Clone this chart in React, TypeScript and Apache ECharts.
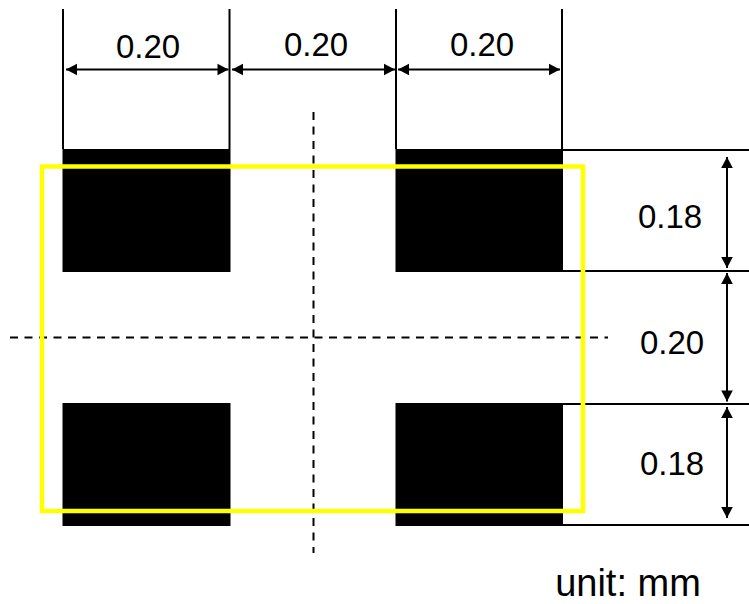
import React, { useEffect, useRef } from "react";
import * as echarts from "echarts";

const W = 749;
const H = 604;
// drawing coordinates on the diagram's own axes: [x0, y0, x1, y1]
const pads = [
  [62.5, 149, 230.5, 272],
  [395.5, 149, 563, 272],
  [62.5, 403, 230.5, 526],
  [395.5, 403, 563, 526],
];
const outline = [[42, 166.5, 583, 511]];
const extensionLines = [
  [63, 9, 63, 149],
  [229.5, 9, 229.5, 149],
  [396, 9, 396, 149],
  [562, 9, 562, 149],
  [563, 150, 749, 150],
  [563, 271, 749, 271],
  [563, 404, 749, 404],
  [563, 525, 749, 525],
];
const centreLines = [
  [313.5, 112, 313.5, 553],
  [10, 337.5, 608, 337.5],
];
const arrows = [
  [66, 69.5, 228.5, 69.5],
  [232, 69.5, 395, 69.5],
  [398, 69.5, 560, 69.5],
  [727, 157, 727, 268],
  [727, 273, 727, 401.5],
  [727, 407, 727, 518],
];
const labelTexts = ["0.20", "0.20", "0.20", "0.18", "0.20", "0.18"];
const labelXs = [148, 316, 482, 670, 672, 672];
const labelYs = [46, 44, 44, 216, 342, 463];
const unitTexts = ["unit: mm"];
const unitXs = [628];
const unitYs = [583];

const FONT = '"Liberation Sans", Arial, sans-serif';

function rectSeries(data: number[][], style: any, z: number) {
  return {
    type: "custom",
    coordinateSystem: "cartesian2d",
    silent: true,
    z,
    data,
    encode: { x: [0, 2], y: [1, 3] },
    renderItem: (_: any, api: any) => {
      const a = api.coord([api.value(0), api.value(1)]);
      const b = api.coord([api.value(2), api.value(3)]);
      return {
        type: "rect",
        shape: { x: a[0], y: a[1], width: b[0] - a[0], height: b[1] - a[1] },
        style,
      };
    },
  };
}

function lineSeries(data: number[][], style: any, z: number) {
  return {
    type: "custom",
    coordinateSystem: "cartesian2d",
    silent: true,
    z,
    data,
    encode: { x: [0, 2], y: [1, 3] },
    renderItem: (_: any, api: any) => {
      const a = api.coord([api.value(0), api.value(1)]);
      const b = api.coord([api.value(2), api.value(3)]);
      return {
        type: "line",
        shape: { x1: a[0], y1: a[1], x2: b[0], y2: b[1] },
        style,
      };
    },
  };
}

function arrowSeries(data: number[][], z: number) {
  const len = 11;
  const half = 5.8;
  return {
    type: "custom",
    coordinateSystem: "cartesian2d",
    silent: true,
    z,
    data,
    encode: { x: [0, 2], y: [1, 3] },
    renderItem: (_: any, api: any) => {
      const a = api.coord([api.value(0), api.value(1)]);
      const b = api.coord([api.value(2), api.value(3)]);
      const d = Math.hypot(b[0] - a[0], b[1] - a[1]);
      const ux = (b[0] - a[0]) / d;
      const uy = (b[1] - a[1]) / d;
      const head = (t: number[], sx: number) => [
        t,
        [t[0] + sx * ux * len - uy * half, t[1] + sx * uy * len + ux * half],
        [t[0] + sx * ux * len + uy * half, t[1] + sx * uy * len - ux * half],
      ];
      return {
        type: "group",
        children: [
          {
            type: "line",
            shape: { x1: a[0], y1: a[1], x2: b[0], y2: b[1] },
            style: { stroke: "#000", lineWidth: 2 },
          },
          { type: "polygon", shape: { points: head(a, 1) }, style: { fill: "#000" } },
          { type: "polygon", shape: { points: head(b, -1) }, style: { fill: "#000" } },
        ],
      };
    },
  };
}

function textSeries(texts: string[], xs: number[], ys: number[], fontSize: number, z: number) {
  return {
    type: "custom",
    coordinateSystem: "cartesian2d",
    silent: true,
    z,
    data: xs.map((x, i) => [x, ys[i]]),
    encode: { x: 0, y: 1 },
    renderItem: (params: any, api: any) => {
      const p = api.coord([api.value(0), api.value(1)]);
      return {
        type: "text",
        x: p[0],
        y: p[1],
        style: {
          text: texts[params.dataIndex],
          fill: "#000",
          font: `${fontSize}px ${FONT}`,
          align: "center",
          verticalAlign: "middle",
        },
      };
    },
  };
}

export default function App() {
  const ref = useRef<HTMLDivElement>(null);
  useEffect(() => {
    document.body.style.margin = "0";
    const chart = echarts.init(ref.current!, undefined, { renderer: "svg" });
    chart.setOption({
      animation: false,
      backgroundColor: "#fff",
      grid: { left: 0, top: 0, width: W, height: H, containLabel: false },
      xAxis: { type: "value", min: 0, max: W, show: false },
      yAxis: { type: "value", min: 0, max: H, inverse: true, show: false },
      series: [
        lineSeries(extensionLines, { stroke: "#000", lineWidth: 2 }, 1),
        lineSeries(centreLines, { stroke: "#000", lineWidth: 2, lineDash: [8, 6.5] }, 2),
        rectSeries(pads, { fill: "#000" }, 3),
        arrowSeries(arrows, 4),
        rectSeries(outline, { fill: "none", stroke: "#ffff00", lineWidth: 4.5 }, 5),
        textSeries(labelTexts, labelXs, labelYs, 33, 6),
        textSeries(unitTexts, unitXs, unitYs, 38, 6),
      ],
    });
    return () => chart.dispose();
  }, []);
  return <div ref={ref} style={{ width: W, height: H }} />;
}
